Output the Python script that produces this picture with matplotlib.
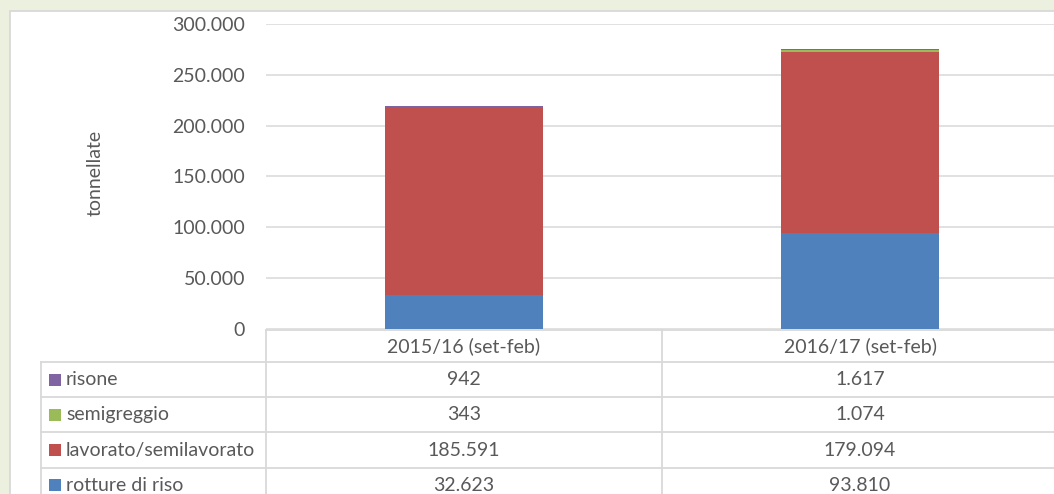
import matplotlib
matplotlib.use("Agg")
import matplotlib.pyplot as plt
from matplotlib.lines import Line2D
from matplotlib.patches import Rectangle
from matplotlib.ticker import FuncFormatter

# ---------------- data ----------------
categories = ["2015/16 (set-feb)", "2016/17 (set-feb)"]
rotture = [32623, 93810]
lavorato = [185591, 179094]
semigreggio = [343, 1074]
risone = [942, 1617]
series_names = ["rotture di riso", "lavorato/semilavorato", "semigreggio", "risone"]
series_values = [rotture, lavorato, semigreggio, risone]
series_colors = ["#4F81BD", "#C0504D", "#9BBB59", "#8064A2"]
y_ticks = [0, 50000, 100000, 150000, 200000, 250000, 300000]

W, H = 1054, 494
TXT = "#595959"
GRID = "#D9D9D9"
FS = 14
plt.rcParams["font.family"] = ["Lato", "DejaVu Sans"]

fig = plt.figure(figsize=(W / 100, H / 100), dpi=100)
fig.patch.set_facecolor("#EBF1DE")


def fx(px):
    return px / W


def fy(py):
    return 1 - py / H


def fmt(v):
    return f"{int(round(v)):,}".replace(",", ".")


# white chart area with grey border
fig.patches.append(Rectangle((fx(9.5), fy(520)), (1080 - 9.5) / W, (520 - 10.5) / H,
                             transform=fig.transFigure, facecolor="white",
                             edgecolor=GRID, linewidth=1.3, zorder=-5))

# plot area
ax_left, ax_right, ax_top, ax_bottom = 266, 1058, 24, 328.5
ax = fig.add_axes([fx(ax_left), fy(ax_bottom), (ax_right - ax_left) / W, (ax_bottom - ax_top) / H])
ax.set_zorder(2)
ax.set_facecolor("none")
ax.set_xlim(-0.5, len(categories) - 0.5)
ax.set_ylim(0, 300000)
ax.set_yticks(y_ticks)
ax.yaxis.set_major_formatter(FuncFormatter(lambda v, p: fmt(v)))
ax.tick_params(axis="y", length=0, pad=15, labelsize=FS, labelcolor=TXT)
ax.set_xticks([])
for s in ax.spines.values():
    s.set_visible(False)
ax.grid(axis="y", color=GRID, linewidth=1.1)
ax.set_axisbelow(True)

x = list(range(len(categories)))
bottom = [0] * len(categories)
for vals, col in zip(series_values, series_colors):
    ax.bar(x, vals, width=0.4, bottom=bottom, color=col, linewidth=0, zorder=3)
    bottom = [b + v for b, v in zip(bottom, vals)]

fig.text(fx(95), fy(173), "tonnellate", rotation=90, ha="center", va="center",
         fontsize=FS, color=TXT)

# ---------------- data table ----------------
fig.canvas.draw()
to_px = lambda xd: ax.transData.transform((xd, 0))[0]
col_edges = [to_px(i - 0.5) for i in range(len(categories) + 1)]
col_centers = [to_px(i) for i in range(len(categories))]

header_top, header_bot = 330, 362
row_h = 35.2
label_left = 41
fig_bottom_px = 520


def hline(y, x0, x1):
    fig.lines.append(Line2D([x0 / W, x1 / W], [fy(y), fy(y)], transform=fig.transFigure,
                            color=GRID, linewidth=1.3, zorder=5))


def vline(xp, y0, y1):
    fig.lines.append(Line2D([xp / W, xp / W], [fy(y0), fy(y1)], transform=fig.transFigure,
                            color=GRID, linewidth=1.3, zorder=5))


hline(header_top, col_edges[0], 1080)
rows = list(zip(series_names, series_values, series_colors))[::-1]  # risone first
for i in range(len(rows)):
    hline(header_bot + i * row_h, label_left, 1080)
vline(label_left, header_bot, fig_bottom_px)
for e in col_edges:
    vline(e, header_top, fig_bottom_px)

for c, cx in zip(categories, col_centers):
    fig.text(cx / W, fy((header_top + header_bot) / 2), c, ha="center", va="center",
             fontsize=FS, color=TXT)

for i, (name, vals, col) in enumerate(rows):
    cy = header_bot + i * row_h + row_h / 2
    fig.patches.append(Rectangle((fx(49), fy(cy + 6)), 12 / W, 12 / H, transform=fig.transFigure,
                                 facecolor=col, edgecolor="none", zorder=6))
    fig.text(fx(66), fy(cy), name, ha="left", va="center", fontsize=FS, color=TXT)
    for v, cx in zip(vals, col_centers):
        fig.text(cx / W, fy(cy), fmt(v), ha="center", va="center", fontsize=FS, color=TXT)

fig.savefig("out.png", dpi=100, facecolor=fig.get_facecolor())
